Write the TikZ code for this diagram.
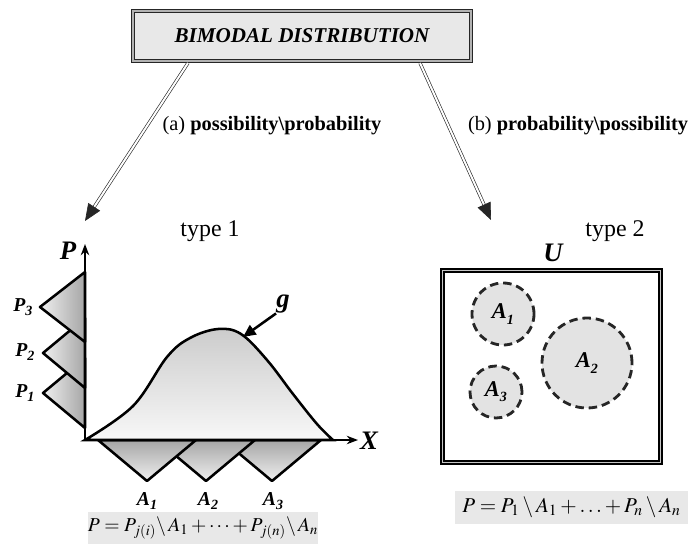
\documentclass[tikz,border=0pt]{standalone}
\usepackage{mathptmx}
\usepackage{fontspec}
\setmainfont{Liberation Serif}
\usetikzlibrary{arrows.meta, positioning}
\newcommand{\sublab}[2]{#1\raisebox{-0.5ex}{\fontsize{10}{12}\selectfont #2}}

\begin{document}
\begin{tikzpicture}[x=0.025cm, y=-0.025cm,
    titlebox/.style={rectangle, draw=black!85, line width=0.9pt, double=gray!60,
        double distance=0.8pt, fill=gray!18, minimum width=8.45cm,
        minimum height=1.25cm, font=\fontsize{15}{17}\selectfont\bfseries\itshape},
    branch/.style={draw=black!85, line width=0.45pt, double=white, double distance=1.4pt,
        -{Triangle[length=12pt,width=10pt]}},
    pathlabel/.style={font=\fontsize{14.5}{17}\selectfont, inner sep=0pt},
    typelabel/.style={font=\fontsize{17}{20}\selectfont, inner sep=0pt},
    axlabel/.style={font=\fontsize{19}{22}\selectfont\bfseries\itshape, inner sep=0pt},
    tlabel/.style={font=\fontsize{14}{16}\selectfont\bfseries\itshape, inner sep=0pt},
    ptri/.style={draw=black, line width=1.8pt, line join=round, left color=gray!12, right color=gray!70},
    atri/.style={draw=black, line width=1.8pt, line join=round, top color=gray!70, bottom color=gray!12},
    bell/.style={draw=black, line width=1.8pt, top color=gray!40, bottom color=gray!6},
    axis/.style={line width=1.8pt, -{Stealth[length=8pt,width=6pt]}},
    garrow/.style={line width=1.8pt, -{Triangle[length=9pt,width=8pt]}},
    ubox/.style={rectangle, draw=black, line width=1.4pt, double=gray!45, double distance=0.7pt,
        minimum width=5.45cm, minimum height=4.8cm},
    setcircle/.style={circle, draw=black!85, fill=gray!22, line width=2pt,
        dash pattern=on 6pt off 3.5pt, inner sep=0pt,
        font=\fontsize{16}{18}\selectfont\bfseries\itshape},
    formbox/.style={rectangle, fill=gray!18, inner sep=0pt, font=\fontsize{15}{18}\selectfont}
    ]
    \useasboundingbox (0,0) rectangle (696,544);

    % title and the two branches
    \node[titlebox] (title) at (302,36) {BIMODAL DISTRIBUTION};
    \coordinate (lstart) at (188,63);
    \coordinate (lend) at (85,221);
    \coordinate (rstart) at (420,63);
    \coordinate (rend) at (491,220);
    \draw[branch] (lstart) -- (lend);
    \draw[branch] (rstart) -- (rend);
    \node[pathlabel] (laba) at (272,126) {(a) \textbf{possibility\textbackslash probability}};
    \node[pathlabel] (labb) at (578,126) {(b) \textbf{probability\textbackslash possibility}};

    \node[typelabel] (type1) at (210,231) {type 1};
    \node[typelabel] (type2) at (615,231) {type 2};

    % type 1: left graph
    \coordinate (O) at (85,440);
    \coordinate (ytop) at (85,244);
    \coordinate (xend) at (358,440);
    \draw[ptri] (85,358) -- (43,393) -- (85,428) -- cycle;
    \draw[ptri] (85,318) -- (43,353) -- (85,388) -- cycle;
    \draw[ptri] (85,272) -- (40,307) -- (85,342) -- cycle;
    \draw[atri] (223,440) -- (272,481) -- (321,440) -- cycle;
    \draw[atri] (157,440) -- (206,481) -- (255,440) -- cycle;
    \draw[atri] (98,440) -- (147,481) -- (196,440) -- cycle;
    \draw[bell] plot[smooth, tension=0.6] coordinates {(85,440) (133,406) (167,357)
        (190,338) (218,329) (241,334) (267,360) (293,394) (317,424) (333,440)} -- cycle;
    \draw[axis] (O) -- (ytop);
    \draw[axis] (O) -- (xend);

    \node[axlabel] (plab) at (68,251) {P};
    \node[axlabel] (xlab) at (369,441) {X};
    \node[axlabel] (glab) at (283,304) {g};
    \coordinate (gtip) at (243,337);
    \draw[garrow] (glab.south west) -- (gtip);

    \node[tlabel] (p3) at (23,307) {\sublab{P}{3}};
    \node[tlabel] (p2) at (25,352) {\sublab{P}{2}};
    \node[tlabel] (p1) at (25,393) {\sublab{P}{1}};
    \node[tlabel] (a1) at (147,501) {\sublab{A}{1}};
    \node[tlabel] (a2) at (208,501) {\sublab{A}{2}};
    \node[tlabel] (a3) at (273,501) {\sublab{A}{3}};

    \node[formbox, minimum width=5.75cm, minimum height=0.8cm] (form1) at (203,528)
        {\fontsize{14}{17}\selectfont$P = P_{j(i)}{\setminus}\,A_1 + \cdots + P_{j(n)}{\setminus}\,A_n$};

    % type 2: the set U
    \node[ubox] (ubox) at (551.5,366.5) {};
    \node[axlabel] (ulab) at (553,253) {U};
    \node[setcircle, minimum size=1.55cm] (c1) at (503,314) {\sublab{A}{1}};
    \node[setcircle, minimum size=2.25cm] (c2) at (587,363) {\sublab{A}{2}};
    \node[setcircle, minimum size=1.3cm] (c3) at (496,392) {\sublab{A}{3}};

    \node[formbox, minimum width=5.83cm, minimum height=0.83cm] (form2) at (571.5,507.5)
        {$P = P_1\setminus A_1 + \ldots + P_n\setminus A_n$};
\end{tikzpicture}
\end{document}
